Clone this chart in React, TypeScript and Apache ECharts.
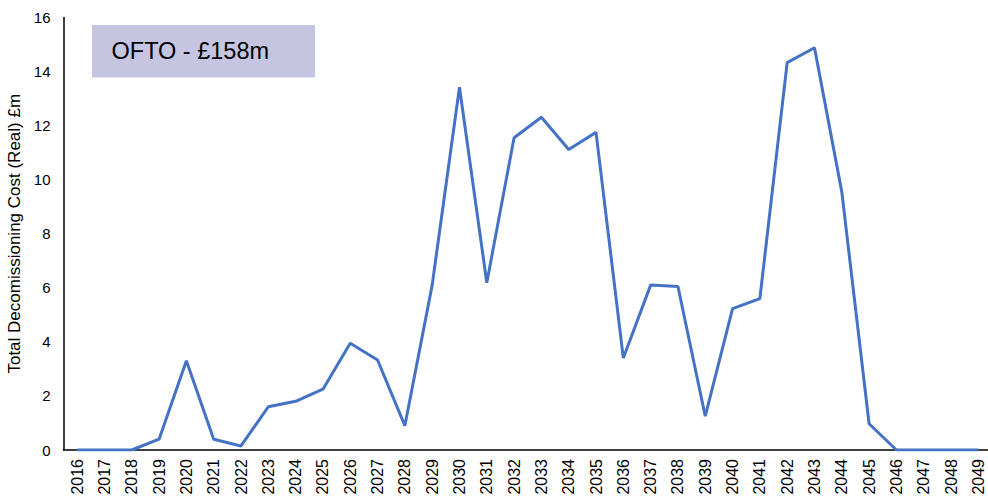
import React, { useEffect, useRef } from "react";
import * as echarts from "echarts";

// Years on the category axis
const years: string[] = [
  "2016", "2017", "2018", "2019", "2020", "2021", "2022", "2023", "2024", "2025",
  "2026", "2027", "2028", "2029", "2030", "2031", "2032", "2033", "2034", "2035",
  "2036", "2037", "2038", "2039", "2040", "2041", "2042", "2043", "2044", "2045",
  "2046", "2047", "2048", "2049",
];

// Annual decommissioning cost, £m (real)
const costs: number[] = [
  0, 0, 0, 0.4, 3.3, 0.4, 0.15, 1.6, 1.8, 2.25,
  3.95, 3.33, 0.9, 6.1, 13.42, 6.19, 11.55, 12.31, 11.12, 11.75,
  3.4, 6.1, 6.05, 1.25, 5.23, 5.6, 14.33, 14.88, 9.55, 0.97,
  0, 0, 0, 0,
];

const yTicks = { min: 0, max: 16, interval: 2 };
const yTitle = "Total Decomissioning Cost (Real) £m";
const boxLabel = "OFTO - £158m";

const FONT = "'Liberation Sans', Arial, sans-serif";

export default function App() {
  const ref = useRef<HTMLDivElement>(null);

  useEffect(() => {
    if (!ref.current) return;
    const chart = echarts.init(ref.current, undefined, { renderer: "svg" });
    chart.setOption({
      animation: false,
      backgroundColor: "#ffffff",
      textStyle: { fontFamily: FONT },
      // the plot runs a little past the right edge of the canvas
      grid: {
        left: 63.5,
        top: 17.5,
        bottom: 48,
        right: -4,
        outerBoundsMode: "none",
        containLabel: false,
      },
      xAxis: {
        type: "category",
        data: years,
        boundaryGap: true,
        axisLine: { lineStyle: { color: "#000000", width: 1.5 } },
        axisTick: { show: false },
        axisLabel: {
          rotate: 90,
          interval: 0,
          margin: 9,
          color: "#000000",
          fontSize: 16,
          fontFamily: FONT,
        },
      },
      yAxis: {
        type: "value",
        min: yTicks.min,
        max: yTicks.max,
        interval: yTicks.interval,
        name: yTitle,
        nameLocation: "middle",
        nameGap: 28,
        nameTextStyle: { color: "#000000", fontSize: 17, fontFamily: FONT },
        axisLine: { show: true, lineStyle: { color: "#000000", width: 1.5 } },
        axisTick: { show: false },
        splitLine: { show: false },
        axisLabel: { color: "#000000", fontSize: 15, margin: 13, fontFamily: FONT },
      },
      series: [
        {
          type: "line",
          data: costs,
          symbol: "none",
          lineStyle: { color: "#4472C4", width: 3 },
          itemStyle: { color: "#4472C4" },
        },
      ],
      graphic: [
        {
          type: "rect",
          shape: { x: 92, y: 25, width: 223, height: 52.5 },
          style: { fill: "#C5C5E2" },
          z: 10,
        },
        {
          type: "text",
          x: 111.5,
          y: 51,
          style: {
            text: boxLabel,
            fontSize: 23.5,
            fontFamily: FONT,
            fill: "#000000",
            verticalAlign: "middle",
          },
          z: 11,
        },
      ],
    });
    return () => chart.dispose();
  }, []);

  return <div ref={ref} style={{ width: 988, height: 498, position: "absolute", left: 0, top: 0 }} />;
}
